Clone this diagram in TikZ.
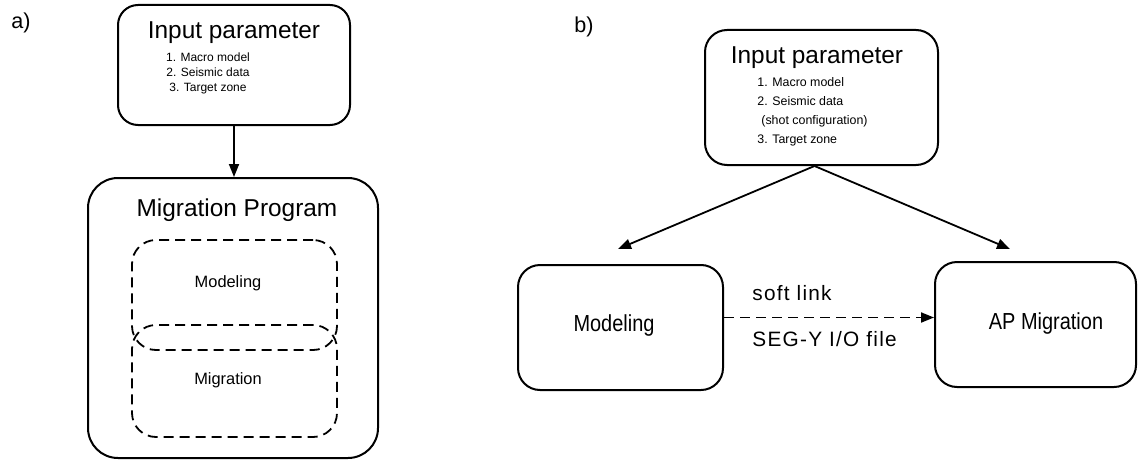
\documentclass[tikz,border=0pt]{standalone}
\usepackage{fontspec}
\setmainfont{Liberation Sans}
\newfontfamily\smalsf[FakeStretch=0.86]{Liberation Sans}
\newfontfamily\spredtsf[LetterSpace=6]{Liberation Sans}
\usetikzlibrary{arrows.meta,positioning}
\tikzset{
    %Define standard arrow tip
    >={Triangle[length=6.5pt,width=5pt]},
    %Define style for boxes
    boks/.style={
           rectangle,
           rounded corners=10pt,
           draw=black, line width=1pt,
           inner sep=0pt},
    stiplet/.style={
           rectangle,
           rounded corners=12pt,
           draw=black, line width=0.9pt,
           dash pattern=on 5pt off 3pt,
           inner sep=0pt},
    % Define arrow style
    pil/.style={
           ->,
           line width=0.9pt},
    link/.style={
           ->,
           line width=0.9pt,
           dash pattern=on 5pt off 3pt},
    % Define text styles
    tag/.style={font=\fontsize{10.8pt}{13pt}\selectfont, inner sep=0pt},
    titel/.style={font=\fontsize{12.2pt}{14pt}\selectfont, inner sep=0pt},
    liste/.style={font=\fontsize{6pt}{7.5pt}\selectfont, inner sep=0pt},
    innen/.style={font=\fontsize{8.2pt}{10pt}\selectfont, inner sep=0pt},
    smal/.style={font=\smalsf\fontsize{11.6pt}{13pt}\selectfont, inner sep=0pt},
    spredt/.style={font=\spredtsf\fontsize{10.4pt}{12pt}\selectfont, inner sep=0pt, anchor=base west}
}

\begin{document}
\begin{tikzpicture}[x=0.5pt, y=-0.5pt]
  \useasboundingbox (0,0) rectangle (1138,460);
  % a) one program
  \node[tag] (la) at (21,23) {a)};
  \node[boks, minimum width=116pt, minimum height=60pt] (ina) at (234,65) {};
  \node[titel] (ina-t) at (234,33) {Input parameter};
  \node[liste, align=center] (ina-l) at (208,73) {1. Macro model\\2. Seismic data\\3. Target zone};
  \node[boks, rounded corners=15pt, minimum width=145pt, minimum height=140pt] (prog) at (233,318) {};
  \node[titel] (prog-t) at (237,210) {Migration Program};
  \node[stiplet, minimum width=102.5pt, minimum height=55pt] (moda) at (234.5,295) {};
  \node[stiplet, minimum width=102.5pt, minimum height=56pt] (miga) at (234.5,381) {};
  \node[innen] (moda-t) at (228,283) {Modeling};
  \node[innen] (miga-t) at (228,380) {Migration};
  \draw[pil] (ina.south) -- (ina.south |- prog.north);

  % b) two programs
  \node[tag] (lb) at (584,27) {b)};
  \node[boks, rounded corners=11pt, minimum width=116.5pt, minimum height=67.5pt] (inb) at (821.5,97.5) {};
  \node[titel] (inb-t) at (817,58) {Input parameter};
  \node[liste, font=\fontsize{6.2pt}{9.5pt}\selectfont, align=left, anchor=west] (inb-l) at (757,111.5)
       {1. Macro model\\2. Seismic data\\\hspace{2pt}(shot configuration)\\3. Target zone};
  \node[boks, rounded corners=11pt, minimum width=102.5pt, minimum height=62.5pt] (modb) at (620.5,327.5) {};
  \node[boks, rounded corners=11pt, minimum width=100.5pt, minimum height=62.5pt] (apm) at (1035.5,324.5) {};
  \node[smal] (modb-t) at (614,325) {Modeling};
  \node[smal] (apm-t) at (1046,323) {AP Migration};
  \coordinate (gaffel) at ([xshift=-3.5pt]inb.south);
  \coordinate (venstre) at (618,249);
  \coordinate (hoejre) at (1010,249);
  \draw[pil] (gaffel) -- (venstre);
  \draw[pil] (gaffel) -- (hoejre);
  \draw[link] ([yshift=5pt]modb.east) -- ([yshift=5pt]modb.east -| apm.west);
  \node[spredt] (soft) at (752,300) {soft link};
  \node[spredt] (segy) at (752,346) {SEG-Y I/O file};
\end{tikzpicture}
\end{document}
